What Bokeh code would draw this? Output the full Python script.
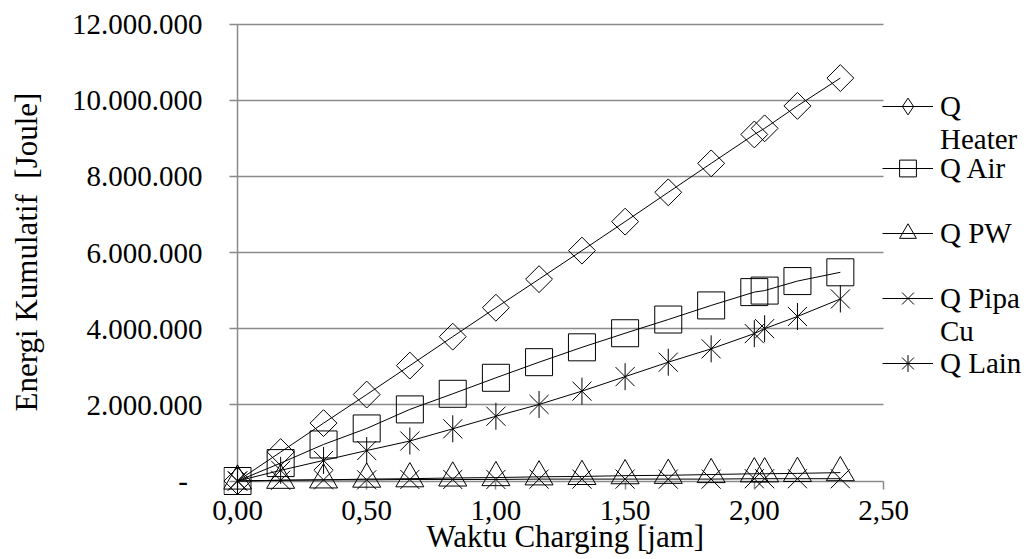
import math
from bokeh.plotting import figure
from bokeh.models import Range1d, FixedTicker, Legend, LegendItem, Grid, Title
from bokeh.embed import file_html
from bokeh.resources import INLINE

# ---------------- data ----------------
waktu_jam = [0.0, 0.167, 0.333, 0.5, 0.667, 0.833, 1.0, 1.167, 1.333, 1.5,
             1.667, 1.833, 2.0, 2.04, 2.167, 2.333]
q_heater = [0, 760000, 1520000, 2270000, 3030000, 3790000, 4550000, 5300000,
            6050000, 6810000, 7580000, 8340000, 9100000, 9260000, 9850000, 10580000]
q_air = [0, 470000, 960000, 1380000, 1880000, 2290000, 2710000, 3120000,
         3510000, 3880000, 4240000, 4610000, 4960000, 5000000, 5250000, 5480000]
q_pw = [0, 20000, 30000, 50000, 60000, 80000, 90000, 110000,
        120000, 140000, 150000, 170000, 190000, 190000, 200000, 220000]
q_pipa_cu = [0, 20000, 30000, 30000, 40000, 40000, 40000, 50000,
             50000, 50000, 50000, 50000, 60000, 60000, 60000, 60000]
q_lain = [0, 280000, 540000, 800000, 1050000, 1370000, 1700000, 2010000,
          2360000, 2740000, 3120000, 3470000, 3870000, 4000000, 4320000, 4780000]

series_labels = ["Q\nHeater", "Q Air", "Q PW", "Q Pipa\nCu", "Q Lain"]
x_ticks = [0, 0.5, 1, 1.5, 2, 2.5]
x_tick_labels = ["0,00", "0,50", "1,00", "1,50", "2,00", "2,50"]
y_ticks = [0, 2000000, 4000000, 6000000, 8000000, 10000000, 12000000]
y_tick_labels = ["-\u00a0\u00a0", "2.000.000", "4.000.000", "6.000.000",
                 "8.000.000", "10.000.000", "12.000.000"]
x_title = "Waktu Charging [jam]"
y_title = "Energi Kumulatif\u00a0 [Joule]"

# ---------------- layout ----------------
W, H = 1034, 559
FL, FR, FT, FB = 223, 1034, 8, 495          # frame edges (px)
X0PX, X1PX = 237.0, 883.0                   # px of x=0 and x=2.5
Y0PX, Y1PX = 480.5, 23.5                    # px of y=0 and y=12M
sx = (X1PX - X0PX) / 2.5
sy = (Y0PX - Y1PX) / 12e6

FONT = "Liberation Serif"
FS = "29px"
FS_TITLE = "31px"
GRAY = "#8a8a8a"
TICK = 8  # px

p = figure(width=W, height=H, title=None,
           x_range=Range1d(-(X0PX - FL) / sx, (FR - X0PX) / sx),
           y_range=Range1d(-(FB - Y0PX) / sy, (Y0PX - FT) / sy),
           output_backend="svg", toolbar_location=None,
           min_border_left=FL, min_border_right=W - FR,
           min_border_top=FT, min_border_bottom=H - FB)
p.outline_line_color = None
p.background_fill_color = "white"
p.border_fill_color = "white"

# axes: only labels (lines/ticks drawn with bounded grids at the data origin)
xa = p.xaxis[0]
xa.ticker = FixedTicker(ticks=x_ticks, minor_ticks=[])
xa.major_label_overrides = dict(zip(x_ticks, x_tick_labels))
xa.major_label_standoff = 5

ya = p.yaxis[0]
ya.ticker = FixedTicker(ticks=y_ticks, minor_ticks=[])
ya.major_label_overrides = dict(zip(y_ticks, y_tick_labels))
ya.major_label_standoff = 21
ya.axis_label = y_title
ya.axis_label_standoff = 25
ya.axis_label_text_font = FONT
ya.axis_label_text_font_size = FS_TITLE
ya.axis_label_text_font_style = "normal"
ya.axis_label_text_color = "black"

for ax in (xa, ya):
    ax.axis_line_color = None
    ax.major_tick_line_color = None
    ax.major_tick_out = 0
    ax.major_tick_in = 0
    ax.minor_tick_line_color = None
    ax.major_label_text_font = FONT
    ax.major_label_text_font_size = FS
    ax.major_label_text_color = "black"

# horizontal gridlines (incl. the x-axis line at 0)
p.xgrid.visible = False
yg = p.ygrid[0]
yg.ticker = FixedTicker(ticks=y_ticks, minor_ticks=[])
yg.bounds = (-100000, 12100000)
yg.cross_bounds = (0, 2.5)
yg.grid_line_color = GRAY
yg.grid_line_width = 1.5

guides = [
    # y-axis line
    Grid(dimension=0, ticker=FixedTicker(ticks=[0], minor_ticks=[]),
         bounds=(-1, 4), cross_bounds=(0, 12000000)),
    # y-axis tick marks (outside)
    Grid(dimension=1, ticker=FixedTicker(ticks=y_ticks, minor_ticks=[]),
         bounds=(-100000, 12100000), cross_bounds=(-TICK / sx, 0)),
    # x-axis tick marks (outside)
    Grid(dimension=0, ticker=FixedTicker(ticks=x_ticks, minor_ticks=[]),
         bounds=(-1, 4), cross_bounds=(-TICK / sy, 0)),
]
for g in guides:
    g.grid_line_color = GRAY
    g.grid_line_width = 1.5
    p.add_layout(g)

# ---------------- series ----------------
common = dict(line_color="black", line_width=1, fill_alpha=0)

l_heat = p.line(waktu_jam, q_heater, line_color="black", line_width=1)
m_heat = p.scatter(waktu_jam, q_heater, marker="square", size=19, angle=math.pi / 4, **common)
m_heat_leg = p.scatter(waktu_jam, q_heater, marker="diamond", size=27, visible=False, **common)

l_air = p.line(waktu_jam, q_air, line_color="black", line_width=1)
m_air = p.scatter(waktu_jam, q_air, marker="square", size=27, **common)

l_pw = p.line(waktu_jam, q_pw, line_color="black", line_width=1)
m_pw = p.scatter(waktu_jam, q_pw, marker="triangle", size=28, **common)

l_pipa = p.line(waktu_jam, q_pipa_cu, line_color="black", line_width=1)
m_pipa = p.scatter(waktu_jam, q_pipa_cu, marker="x", size=27, **common)

l_lain = p.line(waktu_jam, q_lain, line_color="black", line_width=1)
m_lain_x = p.scatter(waktu_jam, q_lain, marker="x", size=27, **common)
m_lain_v = p.scatter(waktu_jam, q_lain, marker="dash", size=27, angle=math.pi / 2, **common)
m_lain_leg = p.scatter(waktu_jam, q_lain, marker="asterisk", size=27, visible=False, **common)

groups = [[l_heat, m_heat_leg], [l_air, m_air], [l_pw, m_pw], [l_pipa, m_pipa],
          [l_lain, m_lain_leg]]

# ---------------- legend (one entry per row, Excel-like placement) ----------------
# Excel aligns the first line of a wrapped legend label with its symbol:
# a blank leading line keeps the visible first line on the symbol's row.
LEG_LEFT = 882
LEG_ROWS = [105.7, 168.3, 233.3, 297.7, 362.7]   # px of each symbol row
ITEM_H = 124
for lab, rs, row in zip(series_labels, groups, LEG_ROWS):
    text = ("\u00a0\n" + lab) if "\n" in lab else lab
    leg = Legend(items=[LegendItem(label=text, renderers=rs)],
                 location=(LEG_LEFT - FL, round(FB - (row + ITEM_H / 2))),
                 orientation="vertical", glyph_width=51, glyph_height=42,
                 label_height=ITEM_H, spacing=0, padding=0, margin=0,
                 label_standoff=7, background_fill_alpha=0,
                 border_line_color=None,
                 label_text_font=FONT, label_text_font_size=FS,
                 label_text_color="black", label_text_line_height=1.2)
    p.add_layout(leg)

# ---------------- x-axis title ----------------
p.add_layout(Title(text=x_title, align="left", offset=426 - FL, standoff=-12,
                   text_font=FONT, text_font_size=FS_TITLE, text_font_style="normal",
                   text_color="black"), "below")

open("out.html", "w").write(file_html(p, INLINE))
